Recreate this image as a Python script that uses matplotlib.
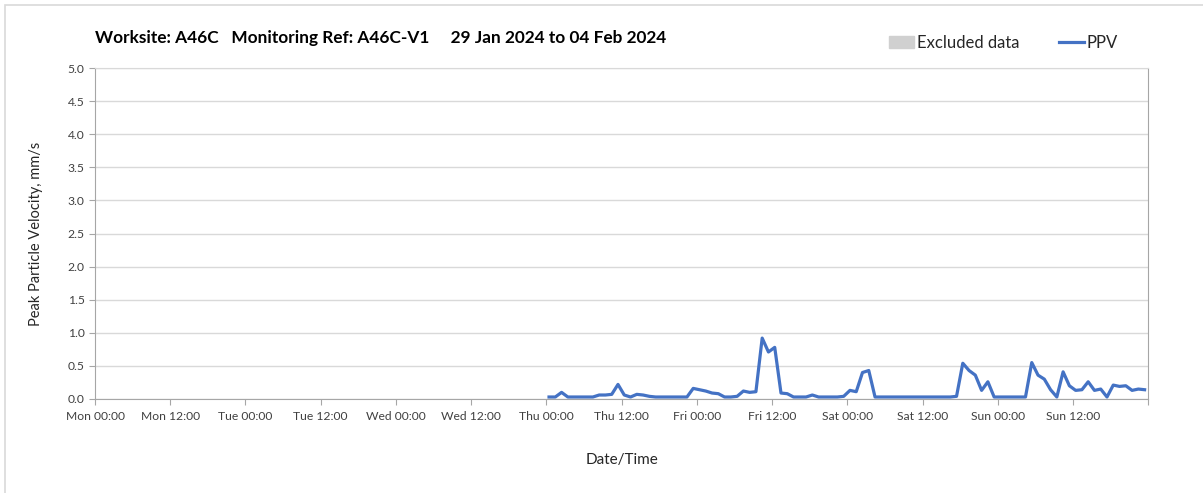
import matplotlib
matplotlib.use("Agg")
import matplotlib.pyplot as plt
import matplotlib.dates as mdates
from matplotlib.patches import Patch, Rectangle
from matplotlib.lines import Line2D
import pandas as pd

plt.rcParams["font.family"] = ["Lato", "DejaVu Sans"]

# %%
# Hourly PPV readings (mm/s), first reading Thu 01 Feb 2024 00:25
start = "2024-02-01 00:25"
ppv = [
    0.03, 0.03, 0.10, 0.03, 0.03, 0.03, 0.03, 0.03, 0.06, 0.06, 0.07, 0.22,
    0.06, 0.03, 0.07, 0.06, 0.04, 0.03, 0.03, 0.03, 0.03, 0.03, 0.03, 0.16,
    0.14, 0.12, 0.09, 0.08, 0.03, 0.03, 0.04, 0.12, 0.10, 0.11, 0.92, 0.71,
    0.78, 0.09, 0.08, 0.03, 0.03, 0.03, 0.06, 0.03, 0.03, 0.03, 0.03, 0.04,
    0.13, 0.11, 0.40, 0.43, 0.03, 0.03, 0.03, 0.03, 0.03, 0.03, 0.03, 0.03,
    0.03, 0.03, 0.03, 0.03, 0.03, 0.04, 0.54, 0.43, 0.36, 0.13, 0.26, 0.03,
    0.03, 0.03, 0.03, 0.03, 0.03, 0.55, 0.36, 0.30, 0.14, 0.03, 0.41, 0.20,
    0.13, 0.14, 0.26, 0.13, 0.15, 0.03, 0.21, 0.19, 0.20, 0.13, 0.15, 0.14,
]
times = pd.date_range(start, periods=len(ppv), freq="h")

x_start, x_end = pd.Timestamp("2024-01-29"), pd.Timestamp("2024-02-05")
title = "Worksite: A46C   Monitoring Ref: A46C-V1     29 Jan 2024 to 04 Feb 2024"

# %%
fig = plt.figure(figsize=(12.03, 4.93), dpi=100)
ax = fig.add_axes([0.079, 0.1907, 0.8755, 0.6713])

ax.plot(times, ppv, color="#4472C4", lw=2.3, solid_joinstyle="round")

ax.set_xlim(x_start, x_end)
ax.set_ylim(0, 5)
ax.set_yticks([i * 0.5 for i in range(11)])
ax.yaxis.set_major_formatter(plt.FormatStrFormatter("%.1f"))

ax.xaxis.set_major_locator(mdates.HourLocator(byhour=[0, 12]))
end_num = mdates.date2num(x_end)
fmt = mdates.DateFormatter("%a %H:%M")
ax.xaxis.set_major_formatter(
    plt.FuncFormatter(lambda v, p: "" if abs(v - end_num) < 1e-6 else fmt(v, p)))
ax.xaxis.set_minor_locator(mdates.DayLocator())

ax.grid(axis="y", which="major", color="#d9d9d9", lw=1)
ax.grid(axis="x", which="minor", color="#d9d9d9", lw=1)
ax.set_axisbelow(True)

for side in ["left", "bottom", "right"]:
    ax.spines[side].set_color("#a6a6a6")
ax.spines["top"].set_color("#d9d9d9")
ax.tick_params(axis="both", which="major", direction="out", length=4,
               color="#a6a6a6", labelsize=8.7, labelcolor="#404040")
ax.tick_params(axis="x", which="minor", length=0)
ax.tick_params(axis="x", pad=5)

ax.set_ylabel("Peak Particle Velocity, mm/s", fontsize=10.5, color="#262626",
              labelpad=18)
ax.set_xlabel("Date/Time", fontsize=11, color="#262626", labelpad=22)

fig.text(0.079, 0.922, title, fontsize=12.4, fontweight="bold", va="center")

handles = [Patch(color="#d0d0d0", label="Excluded data"),
           Line2D([], [], color="#4472C4", lw=2.3, label="PPV")]
fig.legend(handles=handles, loc="center right", bbox_to_anchor=(0.942, 0.913),
           ncol=2, frameon=False, fontsize=12, handlelength=1.5,
           handletextpad=0.15, columnspacing=2.4, labelcolor="#262626")

# light frame round the chart
fig.add_artist(Rectangle((5 / 1203, -0.1), 1.2, 1.1 - 5 / 493, fill=False,
                         edgecolor="#d9d9d9", lw=1.2, transform=fig.transFigure))

fig.savefig("out.png", dpi=100)
